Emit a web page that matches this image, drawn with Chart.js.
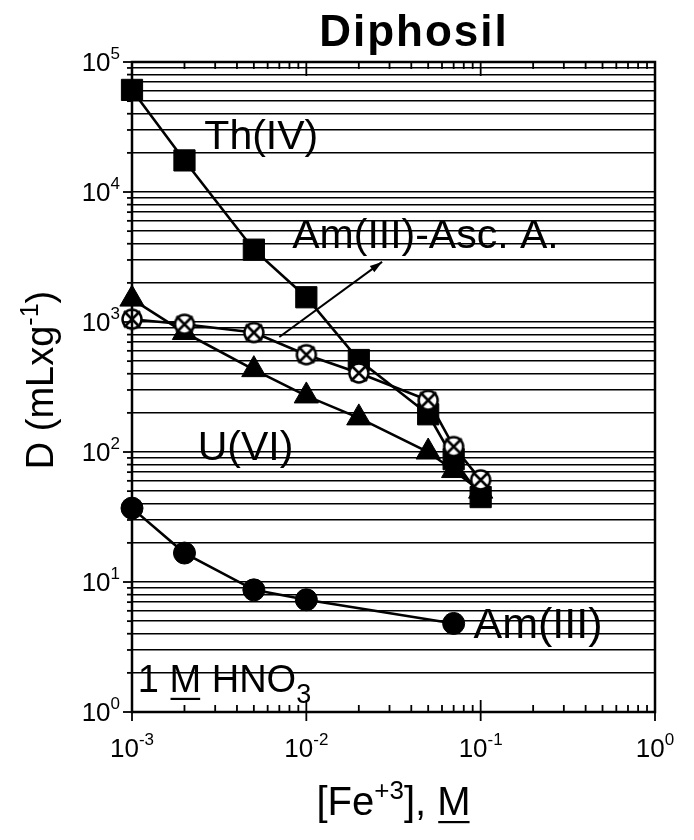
<!DOCTYPE html>
<html>
<head>
<meta charset="utf-8">
<script src="https://cdn.jsdelivr.net/npm/chart.js@4.4.0/dist/chart.umd.min.js"></script>
<style>
  html, body { margin: 0; padding: 0; background: #fff; }
</style>
</head>
<body>
<canvas id="diphosilChart" width="694" height="840"></canvas>
<script>
// [Fe+3] (M) and distribution ratios D (mL/g)
const feConc = [0.001, 0.002, 0.005, 0.01, 0.02, 0.05, 0.07, 0.1];
const thIV = [61000, 17500, 3600, 1550, 510, 195, 88, 45];
const uVI = [1500, 830, 430, 270, 183, 100, 72, 50];
const amAsc = [1050, 960, 830, 560, 405, 250, 110, 61];
const amFeConc = [0.001, 0.002, 0.005, 0.01, 0.07];
const amIII = [37, 16.7, 8.7, 7.3, 4.8];

// decade exponents used as tick labels (10^n)
const xDecades = [-3, -2, -1, 0];
const yDecades = [0, 1, 2, 3, 4, 5];

const FONT = '"Liberation Sans", Arial, Helvetica, sans-serif';

function logTicks(decades) {
    const t = [];
    decades.forEach((e, i) => {
        const base = Math.pow(10, e);
        t.push({ value: base, major: true });
        if (i < decades.length - 1) {
            for (let m = 2; m <= 9; m++) t.push({ value: m * base, major: false });
        }
    });
    return t;
}

function pts(xs, ys) {
    return xs.map((x, i) => ({ x: x, y: ys[i] }));
}

// open circle with a cross, for Am(III)-Asc. A.
function crossedCircle() {
    const c = document.createElement('canvas');
    c.width = 26; c.height = 26;
    const g = c.getContext('2d');
    g.lineWidth = 2.5;
    g.strokeStyle = '#000';
    g.fillStyle = '#fff';
    g.beginPath(); g.arc(13, 13, 9.5, 0, Math.PI * 2); g.fill(); g.stroke();
    g.beginPath();
    g.moveTo(5, 5); g.lineTo(21, 21);
    g.moveTo(21, 5); g.lineTo(5, 21);
    g.stroke();
    return c;
}

function drawParts(ctx, parts, x, y, align, spacing) {
    ctx.letterSpacing = spacing || '0px';
    let w = 0;
    parts.forEach(p => {
        ctx.font = (p.bold ? 'bold ' : '') + p.size + 'px ' + FONT;
        p.w = ctx.measureText(p.t).width;
        w += p.w;
    });
    let cx = align === 'center' ? x - w / 2 : (align === 'right' ? x - w : x);
    ctx.textAlign = 'left';
    ctx.textBaseline = 'alphabetic';
    parts.forEach(p => {
        ctx.font = (p.bold ? 'bold ' : '') + p.size + 'px ' + FONT;
        ctx.fillText(p.t, cx, y + (p.dy || 0));
        if (p.underline) ctx.fillRect(cx + 1, y + 6, p.w - 2, 2.2);
        cx += p.w;
    });
    ctx.letterSpacing = '0px';
}

const decorations = {
    id: 'decorations',
    afterDraw(chart) {
        const ctx = chart.ctx;
        const a = chart.chartArea;
        const xs = chart.scales.x, ys = chart.scales.y;
        ctx.save();
        ctx.fillStyle = '#000';
        ctx.strokeStyle = '#000';

        // frame
        ctx.lineWidth = 2.5;
        ctx.strokeRect(a.left, a.top, a.right - a.left, a.bottom - a.top);

        // x ticks, bottom and top
        ctx.lineWidth = 1.8;
        xs.ticks.forEach(t => {
            const px = xs.getPixelForValue(t.value);
            ctx.beginPath();
            if (t.major) {
                ctx.moveTo(px, a.bottom + 9); ctx.lineTo(px, a.bottom - 12);
                ctx.moveTo(px, a.top); ctx.lineTo(px, a.top + 14);
            } else {
                ctx.moveTo(px, a.bottom); ctx.lineTo(px, a.bottom - 7);
                ctx.moveTo(px, a.top); ctx.lineTo(px, a.top + 7);
            }
            ctx.stroke();
        });
        // y ticks, left side
        ys.ticks.forEach(t => {
            const py = ys.getPixelForValue(t.value);
            ctx.beginPath();
            ctx.moveTo(a.left - (t.major ? 9 : 5), py); ctx.lineTo(a.left, py);
            ctx.stroke();
        });

        // tick labels
        xDecades.forEach(e => {
            const px = xs.getPixelForValue(Math.pow(10, e));
            drawParts(ctx, [{ t: '10', size: 26 }, { t: String(e), size: 17, dy: -12 }], px, a.bottom + 45, 'center');
        });
        yDecades.forEach(e => {
            const py = ys.getPixelForValue(Math.pow(10, e));
            drawParts(ctx, [{ t: '10', size: 26 }, { t: String(e), size: 17, dy: -12 }], a.left - 12, py + 9, 'right');
        });

        // axis titles
        drawParts(ctx, [
            { t: '[Fe', size: 40 }, { t: '+3', size: 26, dy: -16 },
            { t: '], ', size: 40 }, { t: 'M', size: 40, underline: true }
        ], (a.left + a.right) / 2, 815, 'center');
        ctx.save();
        ctx.translate(53, 380);
        ctx.rotate(-Math.PI / 2);
        drawParts(ctx, [
            { t: 'D (mLxg', size: 38 }, { t: '-1', size: 25, dy: -15 }, { t: ')', size: 38 }
        ], 0, 0, 'center');
        ctx.restore();

        // chart title
        drawParts(ctx, [{ t: 'Diphosil', size: 44, bold: true }], 414, 46, 'center', '2px');

        // curve labels, placed in data coordinates
        const lab = (parts, x, y) => drawParts(ctx, parts, xs.getPixelForValue(x), ys.getPixelForValue(y), 'left');
        lab([{ t: 'Th(IV)', size: 41 }], 0.0026, 21500);
        lab([{ t: 'Am(III)-Asc. A.', size: 41 }], 0.0083, 3700);
        lab([{ t: 'U(VI)', size: 41 }], 0.00238, 87);
        lab([{ t: 'Am(III)', size: 43 }], 0.091, 3.7);
        lab([
            { t: '1 ', size: 38 }, { t: 'M', size: 38, underline: true },
            { t: ' HNO', size: 38 }, { t: '3', size: 27, dy: 11 }
        ], 0.00108, 1.43);

        // arrow pointing from the label to the Asc. A. curve
        const x1 = xs.getPixelForValue(0.0070), y1 = ys.getPixelForValue(767);
        const x2 = xs.getPixelForValue(0.0272), y2 = ys.getPixelForValue(2900);
        ctx.lineWidth = 2;
        ctx.beginPath(); ctx.moveTo(x1, y1); ctx.lineTo(x2, y2); ctx.stroke();
        const ang = Math.atan2(y2 - y1, x2 - x1);
        ctx.beginPath();
        ctx.moveTo(x2, y2);
        ctx.lineTo(x2 - 13 * Math.cos(ang - 0.3), y2 - 13 * Math.sin(ang - 0.3));
        ctx.lineTo(x2 - 13 * Math.cos(ang + 0.3), y2 - 13 * Math.sin(ang + 0.3));
        ctx.closePath(); ctx.fill();

        ctx.restore();
    }
};

const lineStyle = {
    borderColor: '#000',
    backgroundColor: '#000',
    borderWidth: 2.6,
    pointBorderColor: '#000',
    pointBackgroundColor: '#000',
    pointBorderWidth: 1,
    tension: 0,
    fill: false,
    clip: false
};

new Chart(document.getElementById('diphosilChart').getContext('2d'), {
    type: 'line',
    data: {
        datasets: [
            Object.assign({}, lineStyle, { label: 'Am(III)-Asc. A.', data: pts(feConc, amAsc), pointStyle: crossedCircle(), pointRadius: 11 }),
            Object.assign({}, lineStyle, { label: 'Th(IV)', data: pts(feConc, thIV), pointStyle: 'rect', pointRadius: 15 }),
            Object.assign({}, lineStyle, { label: 'U(VI)', data: pts(feConc, uVI), pointStyle: 'triangle', pointRadius: 14 }),
            Object.assign({}, lineStyle, { label: 'Am(III)', data: pts(amFeConc, amIII), pointStyle: 'circle', pointRadius: 11 })
        ]
    },
    options: {
        responsive: false,
        animation: false,
        layout: { padding: { left: 132, right: 39, top: 62, bottom: 128 } },
        plugins: {
            legend: { display: false },
            title: { display: false },
            tooltip: { enabled: false }
        },
        scales: {
            x: {
                type: 'logarithmic',
                min: 0.001,
                max: 1,
                afterBuildTicks: s => { s.ticks = logTicks(xDecades); },
                ticks: { display: false },
                grid: { display: false, drawTicks: false },
                border: { display: false }
            },
            y: {
                type: 'logarithmic',
                min: 1,
                max: 100000,
                afterBuildTicks: s => { s.ticks = logTicks(yDecades); },
                ticks: { display: false, autoSkip: false },
                grid: { color: '#000', lineWidth: 1.5, drawTicks: false },
                border: { display: false }
            }
        }
    },
    plugins: [decorations]
});
</script>
</body>
</html>
